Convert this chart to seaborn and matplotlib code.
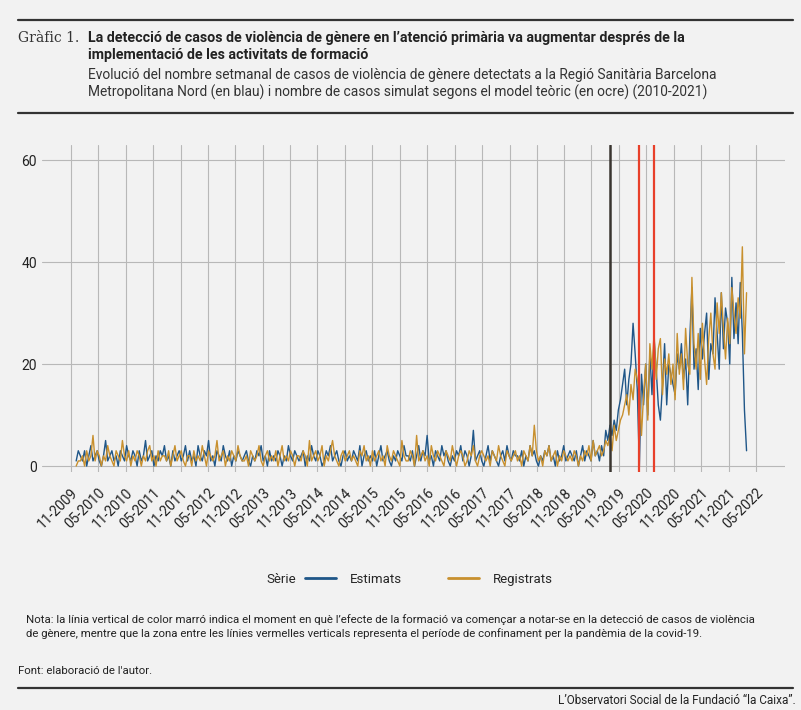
import matplotlib
matplotlib.use("Agg")
import matplotlib.pyplot as plt
import matplotlib.dates as mdates
from matplotlib.lines import Line2D
import pandas as pd
import seaborn as sns

# biweekly values, Dec 2009 - Mar 2022
estimats = [
    1, 3,
    2, 1, 3, 0, 2, 4, 1, 2, 3, 1, 0, 2, 5, 1, 2, 3, 1, 2, 0, 3, 2, 1, 4, 2, 1, 3,
    2, 0, 3, 1, 2, 5, 1, 2, 3, 0, 2, 1, 3, 2, 4, 1, 2, 0, 3, 1, 2, 3, 1, 2, 4, 1,
    3, 1, 2, 0, 4, 2, 1, 3, 2, 5, 1, 2, 0, 3, 2, 1, 4, 2, 1, 3, 0, 2, 1, 3, 2, 1,
    2, 3, 1, 0, 2, 1, 3, 2, 4, 1, 2, 0, 3, 1, 2, 1, 3, 2, 0, 2, 1, 4, 2, 1, 3, 2,
    1, 2, 3, 0, 2, 1, 4, 2, 1, 3, 2, 0, 1, 3, 2, 4, 1, 2, 3, 1, 0, 2, 3, 1, 2, 1,
    3, 2, 1, 4, 0, 2, 3, 1, 2, 1, 3, 0, 2, 4, 1, 2, 3, 1, 0, 2, 1, 3, 2, 1, 4, 2,
    2, 1, 3, 0, 2, 4, 1, 3, 2, 6, 1, 2, 0, 3, 2, 1, 4, 2, 3, 1, 0, 2, 1, 3, 2, 4,
    1, 3, 2, 0, 2, 7, 1, 2, 3, 1, 0, 2, 4, 1, 3, 2, 1, 0, 2, 3, 1, 4, 2, 1, 3, 2,
    2, 1, 3, 0, 2, 1, 4, 2, 3, 1, 0, 2, 1, 3, 2, 4, 1, 2, 0, 3, 1, 2, 4, 1, 2, 3,
    2, 1, 3, 0, 2, 4, 1, 3, 2, 1, 5, 2, 3, 1, 4, 2, 7, 5, 8, 6, 9, 7, 11, 13, 16, 19,
    12, 17, 20, 28, 22, 15, 0, 18, 12, 20, 10, 22, 14, 25, 19, 12, 9, 16, 24, 12, 20, 18, 16, 14, 22, 19,
    24, 17, 21, 12, 25, 35, 19, 23, 15, 27, 21, 26, 30, 17, 24, 22, 33, 26, 19, 34, 23, 31, 28, 20, 37, 25,
    32, 24, 36, 26, 11, 3,
]
registrats = [
    0, 1,
    1, 2, 0, 3, 1, 2, 6, 1, 3, 2, 0, 2, 1, 4, 2, 1, 0, 3, 2, 1, 5, 2, 1, 3, 0, 2,
    1, 3, 2, 0, 2, 1, 3, 4, 1, 2, 0, 3, 1, 2, 2, 1, 3, 0, 2, 4, 1, 2, 3, 1, 0, 2,
    2, 0, 3, 1, 2, 1, 4, 2, 0, 3, 2, 1, 2, 5, 1, 2, 3, 0, 2, 1, 3, 2, 1, 4, 2, 1,
    1, 2, 0, 3, 2, 1, 2, 4, 1, 0, 2, 3, 1, 2, 1, 3, 0, 2, 4, 1, 2, 1, 3, 2, 0, 2,
    2, 1, 3, 2, 0, 5, 1, 2, 3, 1, 2, 4, 0, 2, 1, 3, 5, 2, 1, 0, 2, 3, 1, 2, 3, 1,
    2, 1, 0, 3, 2, 4, 1, 2, 0, 3, 1, 2, 3, 1, 2, 0, 4, 2, 1, 3, 2, 1, 0, 5, 2, 1,
    1, 3, 2, 0, 6, 1, 2, 3, 1, 2, 0, 4, 2, 1, 3, 2, 1, 0, 3, 2, 1, 4, 2, 0, 2, 3,
    2, 0, 1, 3, 2, 4, 1, 0, 2, 3, 2, 1, 2, 0, 3, 2, 1, 4, 2, 1, 0, 3, 2, 1, 2, 3,
    1, 2, 0, 3, 2, 1, 4, 2, 8, 3, 1, 2, 0, 3, 2, 4, 1, 2, 3, 0, 2, 1, 3, 2, 1, 2,
    1, 3, 2, 0, 2, 1, 3, 2, 4, 1, 5, 2, 3, 4, 2, 3, 5, 4, 6, 3, 8, 5, 7, 9, 10, 12,
    14, 10, 16, 13, 19, 17, 15, 6, 14, 20, 9, 24, 19, 26, 17, 23, 25, 14, 21, 18, 22, 16, 20, 13, 26, 18,
    22, 15, 27, 20, 18, 37, 24, 19, 26, 17, 28, 21, 16, 25, 30, 22, 19, 32, 26, 34, 27, 21, 29, 24, 35, 30,
    26, 33, 29, 43, 22, 34,
]
first_week = "2009-12-06"
efecte_formacio = "2019-09-01"
confinament = ["2020-03-14", "2020-06-21"]
tick_dates = pd.date_range("2009-11-01", "2022-05-01", freq="6MS")

dates = pd.date_range(first_week, periods=len(estimats), freq="14D")
df = pd.DataFrame({
    "data": list(dates) * 2,
    "casos": estimats + registrats,
    "Sèrie": ["Estimats"] * len(estimats) + ["Registrats"] * len(registrats),
})

bg = "#f2f2f2"
blue = "#1f5688"
ocre = "#c8902e"
sns.set_style("whitegrid")
plt.rcParams["font.family"] = ["Roboto", "DejaVu Sans"]

fig = plt.figure(figsize=(8.01, 7.10), dpi=100, facecolor=bg)
ax = fig.add_axes([0.052, 0.335, 0.928, 0.461], facecolor=bg)
sns.lineplot(data=df, x="data", y="casos", hue="Sèrie", palette=[blue, ocre],
             linewidth=1.0, ax=ax, legend=False)
ax.axvline(pd.Timestamp(efecte_formacio), color="#3a3530", lw=1.8)
for d in confinament:
    ax.axvline(pd.Timestamp(d), color="#e8402a", lw=1.6)

ax.set_xlim(pd.Timestamp("2009-04-20"), pd.Timestamp("2022-11-10"))
ax.set_ylim(-1.2, 63)
ax.set_yticks([0, 20, 40, 60])
ax.set_xticks(tick_dates)
ax.xaxis.set_major_formatter(mdates.DateFormatter("%m-%Y"))
plt.setp(ax.get_xticklabels(), rotation=45, ha="right", rotation_mode="anchor")
ax.tick_params(axis="x", length=6, width=0.8, color="#b8b8b8", pad=4)
ax.tick_params(axis="y", length=0)
ax.tick_params(labelsize=10, labelcolor="#222222")
ax.grid(color="#b8b8b8", lw=0.8)
for s in ax.spines.values():
    s.set_visible(False)
ax.set_xlabel("")
ax.set_ylabel("")

handles = [Line2D([], [], color=blue, lw=2), Line2D([], [], color=ocre, lw=2)]
fig.legend(handles, ["Estimats", "Registrats"], loc="center", bbox_to_anchor=(0.535, 0.184),
           ncol=2, frameon=False, fontsize=9.5, columnspacing=3.5, handlelength=2.4, handletextpad=1.0)
fig.text(0.333, 0.184, "Sèrie", fontsize=9.5, va="center")

# header & footer
fig.add_artist(Line2D([0.022, 0.99], [0.972, 0.972], color="#333333", lw=1.6))
fig.add_artist(Line2D([0.022, 0.99], [0.841, 0.841], color="#333333", lw=1.6))
fig.add_artist(Line2D([0.022, 0.99], [0.031, 0.031], color="#333333", lw=1.6))
fig.text(0.022, 0.947, "Gràfic 1.", family="DejaVu Serif", fontsize=10, va="center", color="#333333")
fig.text(0.11, 0.947, "La detecció de casos de violència de gènere en l’atenció primària va augmentar després de la",
         fontsize=10.3, fontweight="bold", va="center", color="#222222")
fig.text(0.11, 0.922, "implementació de les activitats de formació",
         fontsize=10.3, fontweight="bold", va="center", color="#222222")
fig.text(0.11, 0.894, "Evolució del nombre setmanal de casos de violència de gènere detectats a la Regió Sanitària Barcelona",
         fontsize=9.9, va="center", color="#333333")
fig.text(0.11, 0.870, "Metropolitana Nord (en blau) i nombre de casos simulat segons el model teòric (en ocre) (2010-2021)",
         fontsize=9.9, va="center", color="#333333")
fig.text(0.033, 0.118, "Nota: la línia vertical de color marró indica el moment en què l’efecte de la formació va començar a notar-se en la detecció de casos de violència\n"
         "de gènere, mentre que la zona entre les línies vermelles verticals representa el període de confinament per la pandèmia de la covid-19.",
         fontsize=8.2, va="center", linespacing=1.35, color="#222222")
fig.text(0.022, 0.055, "Font: elaboració de l'autor.", fontsize=8.2, va="center", color="#222222")
fig.text(0.993, 0.014, "L’Observatori Social de la Fundació “la Caixa”.", fontsize=8.5, va="center", ha="right",
         color="#222222")

fig.savefig("out.png", dpi=100, facecolor=bg)
